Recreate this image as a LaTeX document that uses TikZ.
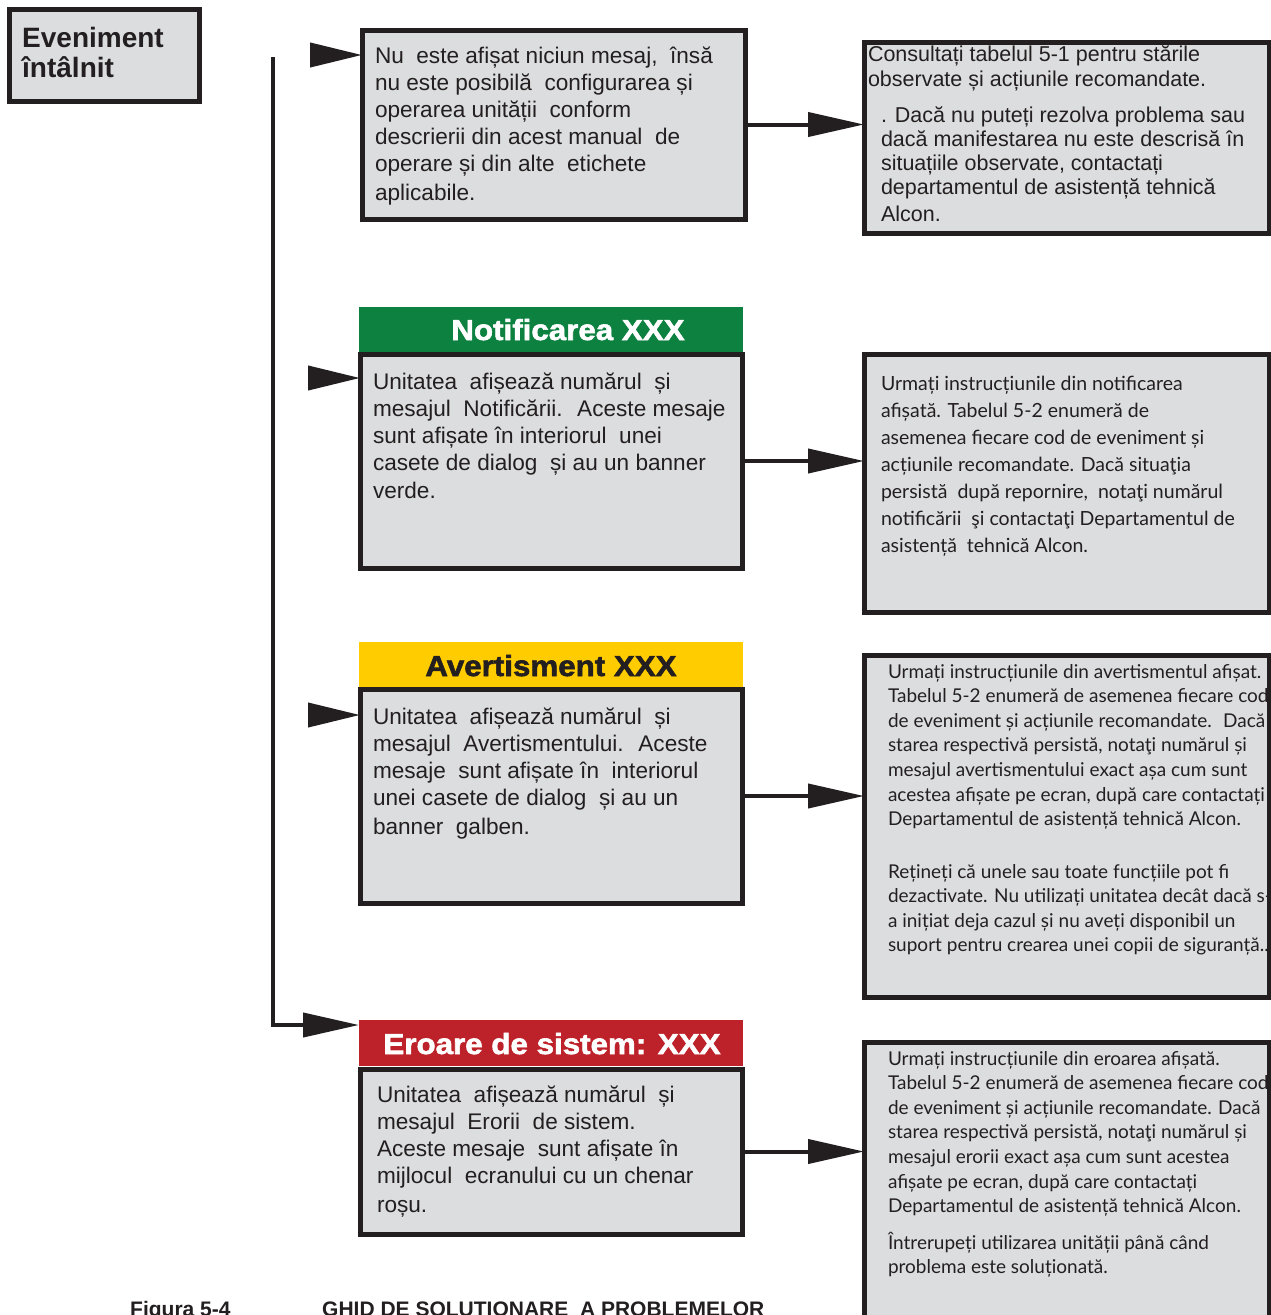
\documentclass[tikz,border=0pt]{standalone}
\usepackage{fontspec}
\setmainfont{Liberation Sans}
\newfontfamily\hum{Lato}
\newfontfamily\heavy[FakeBold=2,FakeStretch=1.08]{Liberation Sans Bold}
\usetikzlibrary{arrows.meta}
\definecolor{boxgray}{HTML}{DCDDDE}
\definecolor{bd}{HTML}{231F20}
\definecolor{bgreen}{HTML}{0C8140}
\definecolor{byellow}{HTML}{FFCC00}
\definecolor{bred}{HTML}{BD2129}
\tikzset{
  box/.style={draw=bd, fill=boxgray, line width=5pt, inner sep=0pt, outer sep=0pt, anchor=north west},
  banner/.style={fill=#1, draw=none, inner sep=0pt, outer sep=0pt, anchor=north west, minimum width=384pt, minimum height=46pt},
  txt/.style={anchor=base west, inner sep=0pt, outer sep=0pt, align=left, font=\fontsize{22.6}{27}\selectfont, text=bd},
  rtxt/.style={anchor=base west, inner sep=0pt, outer sep=0pt, align=left, font=\fontsize{21.5}{24.2}\selectfont, text=bd},
  htxt/.style={anchor=base west, inner sep=0pt, outer sep=0pt, align=left, font=\hum\fontsize{19.5}{27}\selectfont, text=bd},
  htxtb/.style={anchor=base west, inner sep=0pt, outer sep=0pt, align=left, font=\hum\fontsize{19}{24.6}\selectfont, text=bd},
  bantxt/.style={anchor=base, inner sep=0pt, font=\heavy\fontsize{29}{32}\selectfont},
  arr/.style={draw=bd, line width=4pt, line join=miter, -{Triangle[length=56pt,width=24pt]}},
  lhead/.style={draw=bd, line width=4pt, -{Triangle[length=52pt,width=24pt]}},
}
\begin{document}
\begin{tikzpicture}[x=1pt,y=-1pt]
\useasboundingbox (0,0) rectangle (1270,1315);
\fill[white] (0,0) rectangle (1270,1315);

% title box
\node[box, minimum width=190pt, minimum height=92pt] (ev) at (9.5,9.5) {};
\node[anchor=base west, inner sep=0pt, align=left, font=\bfseries\fontsize{28}{30}\selectfont, text=bd] (evt) at (22,77) {Eveniment\\întâlnit};

% banners
\node[banner=bgreen] (n2) at (359,307) {};
\node[banner=byellow] (n3) at (359,642) {};
\node[banner=bred] (n4) at (359,1020) {};
\node[bantxt, text=white] (n2t) at (568,340) {Notificarea XXX};
\node[bantxt, text=bd] (n3t) at (551,676) {Avertisment XXX};
\node[bantxt, text=white] (n4t) at (552,1054) {Eroare de sistem: XXX};

% middle boxes
\node[box, minimum width=383pt, minimum height=189pt] (b1) at (362,30) {};
\node[box, minimum width=382pt, minimum height=214pt] (b2) at (360,354) {};
\node[box, minimum width=382pt, minimum height=214pt] (b3) at (360,689) {};
\node[box, minimum width=382pt, minimum height=165pt] (b4) at (360,1069) {};

\node[txt] (b1t) at (375,200) {Nu~ este afișat niciun mesaj,~ însă\\nu este posibilă~ configurarea și\\operarea unității~ conform\\descrierii din acest manual~ de\\operare și din alte~ etichete\\[2pt]aplicabile.};
\node[txt] (b2t) at (373,498) {Unitatea~ afișează numărul~ și\\mesajul~ Notificării.~ Aceste mesaje\\sunt afișate în interiorul~ unei\\casete de dialog~ și au un banner\\[1pt]verde.};
\node[txt] (b3t) at (373,834) {Unitatea~ afișează numărul~ și\\mesajul~ Avertismentului.~ Aceste\\mesaje~ sunt afișate în~ interiorul\\unei casete de dialog~ și au un\\[2pt]banner~ galben.};
\node[txt] (b4t) at (377,1212) {Unitatea~ afișează numărul~ și\\mesajul~ Erorii~ de sistem.\\Aceste mesaje~ sunt afișate în\\mijlocul~ ecranului cu un chenar\\[2pt]roșu.};

% right boxes
\node[box, minimum width=405pt, minimum height=191pt] (r1) at (864,42) {};
\node[box, minimum width=405pt, minimum height=258pt] (r2) at (864,354) {};
\node[box, minimum width=405pt, minimum height=342pt] (r3) at (864,655) {};
\node[box, minimum width=405pt, minimum height=300pt] (r4) at (864,1042) {};

\node[rtxt] (r1a) at (868,86) {Consultați tabelul 5-1 pentru stările\\observate și acțiunile recomandate.};
\node[rtxt] (r1b) at (881,221) {. Dacă nu puteți rezolva problema sau\\dacă manifestarea nu este descrisă în\\situațiile observate, contactați\\departamentul de asistență tehnică\\[2pt]Alcon.};
\node[htxt] (r2t) at (881,552) {Urmați instrucțiunile din notificarea\\afișată. Tabelul 5-2 enumeră de\\asemenea fiecare cod de eveniment și\\acțiunile recomandate. Dacă situaţia\\persistă~ după repornire,~ notaţi numărul\\notificării~ şi contactaţi Departamentul de\\asistență~ tehnică Alcon.};
\node[htxtb] (r3a) at (888,825.6) {Urmați instrucțiunile din avertismentul afișat.\\Tabelul 5-2 enumeră de asemenea fiecare cod\\de eveniment și acțiunile recomandate.~ Dacă\\starea respectivă persistă, notaţi numărul și\\mesajul avertismentului exact așa cum sunt\\acestea afișate pe ecran, după care contactați\\Departamentul de asistență tehnică Alcon.};
\node[htxtb] (r3b) at (888,951.8) {Rețineți că unele sau toate funcțiile pot fi\\dezactivate. Nu utilizați unitatea decât dacă s-\\a inițiat deja cazul și nu aveți disponibil un\\suport pentru crearea unei copii de siguranță..};
\node[htxtb] (r4a) at (888,1212.6) {Urmați instrucțiunile din eroarea afișată.\\Tabelul 5-2 enumeră de asemenea fiecare cod\\de eveniment și acțiunile recomandate. Dacă\\starea respectivă persistă, notaţi numărul și\\mesajul erorii exact așa cum sunt acestea\\afișate pe ecran, după care contactați\\Departamentul de asistență tehnică Alcon.};
\node[htxtb] (r4b) at (888,1273.6) {Întrerupeți utilizarea unității până când\\problema este soluționată.};

% connectors
\coordinate (vt) at (273,57);
\coordinate (vb) at (273,1025);
\draw[arr] (vt) -- (vb) -- (vb -| n4.west);
\coordinate (s1) at (310,55);
\coordinate (s2) at (310,378);
\coordinate (s3) at (310,715);
\draw[lhead] (s1) -- (s1 -| b1.west);
\draw[lhead] (s2) -- (s2 -| b2.west);
\draw[lhead] (s3) -- (s3 -| b3.west);
\draw[arr] (b1.east) -- (b1.east -| r1.west);
\draw[arr] (b2.east) -- (b2.east -| r2.west);
\draw[arr] (b3.east) -- (b3.east -| r3.west);
\draw[arr] (b4.east) -- (b4.east -| r4.west);

% caption
\node[anchor=base west, inner sep=0pt, font=\bfseries\fontsize{21}{24}\selectfont, text=bd] (cap1) at (130,1316) {Figura 5-4};
\node[anchor=base west, inner sep=0pt, font=\bfseries\fontsize{21}{24}\selectfont, text=bd] (cap2) at (322,1316) {GHID DE SOLUTIONARE~ A PROBLEMELOR};
\end{tikzpicture}
\end{document}
